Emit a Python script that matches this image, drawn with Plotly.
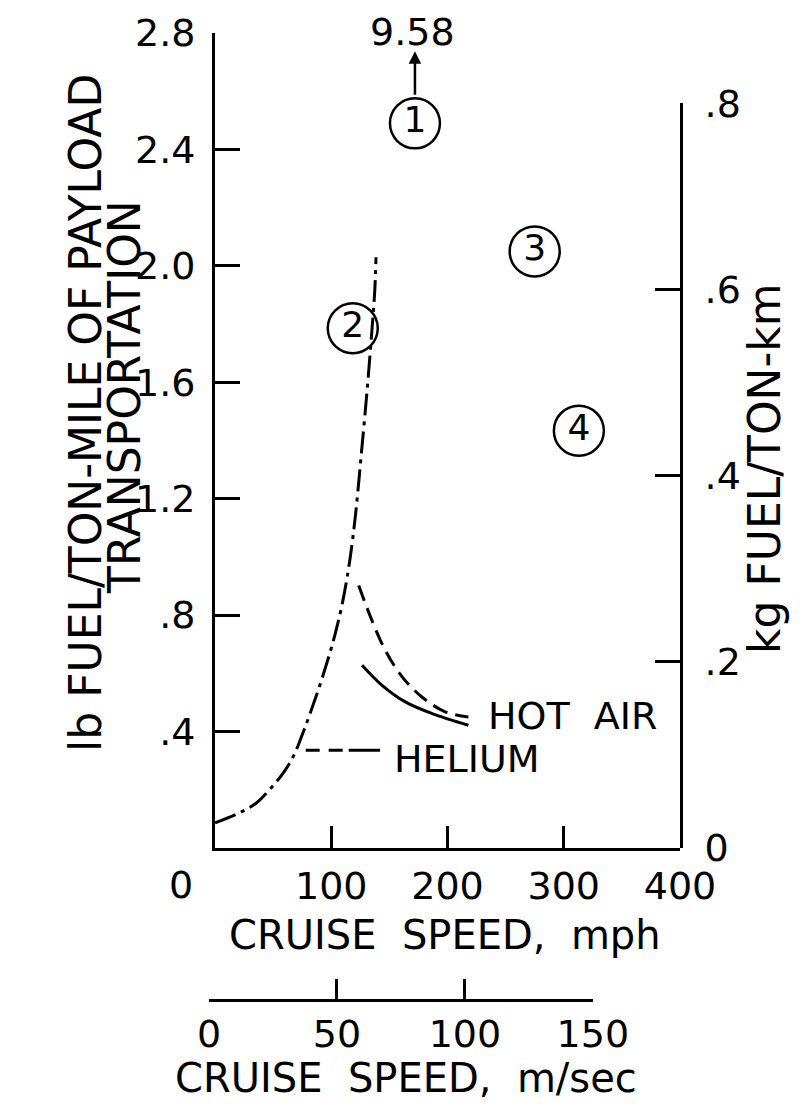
import plotly.graph_objects as go

# ---- data ----
c2_speed = [0, 20, 35, 49, 60, 68, 77, 86, 95, 103, 110, 116, 121, 126, 131, 135, 137.5, 138.5]
c2_fuel = [0.086, 0.119, 0.153, 0.21, 0.265, 0.32, 0.41, 0.51, 0.62, 0.73, 0.85, 0.99,
           1.15, 1.36, 1.58, 1.78, 1.92, 2.03]

hot_dash_speed = [123.6, 135, 146.5, 161, 178, 198, 218]
hot_dash_fuel = [0.902, 0.782, 0.679, 0.588, 0.519, 0.468, 0.450]
hot_solid_speed = [126.5, 143.7, 163.7, 186.7, 218]
hot_solid_fuel = [0.628, 0.559, 0.502, 0.462, 0.422]

helium_dash_speed = [78, 115]
helium_solid_speed = [115, 142]
helium_fuel = 0.336

pt_labels = ["1", "2", "3", "4"]
pt_speed = [172, 118.5, 275, 313]
pt_fuel = [2.49, 1.786, 2.05, 1.434]
pt1_actual = "9.58"

y_ticks = [0.4, 0.8, 1.2, 1.6, 2.0, 2.4, 2.8]
y_ticktext = [".4", ".8", "1.2", "1.6", "2.0", "2.4", "2.8"]
y2_ticks = [0, 0.2, 0.4, 0.6, 0.8]
y2_ticktext = ["0", ".2", ".4", ".6", ".8"]
x_ticks = [100, 200, 300, 400]
x2_ticks = [0, 50, 100, 150]

FONT = "DejaVu Sans"
BLACK = "black"

fig = go.Figure()

fig.add_trace(go.Scatter(x=c2_speed, y=c2_fuel, mode="lines",
                         line=dict(color=BLACK, width=3, dash="22px,6px,4px,6px", shape="spline"),
                         hoverinfo="skip", showlegend=False))
fig.add_trace(go.Scatter(x=hot_dash_speed, y=hot_dash_fuel, mode="lines",
                         line=dict(color=BLACK, width=3, dash="16px,8px", shape="spline"),
                         hoverinfo="skip", showlegend=False))
fig.add_trace(go.Scatter(x=hot_solid_speed, y=hot_solid_fuel, mode="lines",
                         line=dict(color=BLACK, width=3, shape="spline"),
                         hoverinfo="skip", showlegend=False))
fig.add_trace(go.Scatter(x=helium_dash_speed, y=[helium_fuel] * 2, mode="lines",
                         line=dict(color=BLACK, width=3, dash="14px,9px"),
                         hoverinfo="skip", showlegend=False))
fig.add_trace(go.Scatter(x=helium_solid_speed, y=[helium_fuel] * 2, mode="lines",
                         line=dict(color=BLACK, width=3),
                         hoverinfo="skip", showlegend=False))

fig.add_trace(go.Scatter(x=pt_speed, y=pt_fuel, mode="markers+text",
                         text=pt_labels, textposition="middle center",
                         textfont=dict(family=FONT, size=36, color=BLACK),
                         marker=dict(symbol="circle-open", size=50, color=BLACK,
                                     line=dict(width=2.5, color=BLACK)),
                         hoverinfo="skip", showlegend=False, cliponaxis=False))

# invisible traces so the secondary axes are drawn
fig.add_trace(go.Scatter(x=[0], y=[0], yaxis="y2", mode="markers",
                         marker=dict(opacity=0), hoverinfo="skip", showlegend=False))
fig.add_trace(go.Scatter(x=[0], y=[0], xaxis="x2", mode="markers",
                         marker=dict(opacity=0), hoverinfo="skip", showlegend=False))

tickfont = dict(family=FONT, size=38, color=BLACK)

# page has an 8px body margin: figure coords = page coords - 8
OFF = 8
W, H = 811 - 2 * OFF, 1112 - 2 * OFF
L = 209 - OFF
R = W - (680 - OFF)
T = 33 - OFF
B = H - (1000 - OFF)
pw = W - L - R
ph = H - T - B


def px_x(page_x):
    return (page_x - OFF - L) / pw


def px_y(page_y):
    return (H - B - (page_y - OFF)) / ph


axis_common = dict(showline=True, linecolor=BLACK, linewidth=3, ticks="inside",
                   tickcolor=BLACK, tickwidth=3, showgrid=False, zeroline=False,
                   tickfont=tickfont, automargin=False)

fig.update_layout(
    width=W, height=H,
    margin=dict(l=L, r=R, t=T, b=B, autoexpand=False),
    paper_bgcolor="white", plot_bgcolor="rgba(0,0,0,0)",
    xaxis=dict(domain=[px_x(215), 1], range=[0, 400], tickvals=x_ticks, ticklen=22,
               anchor="y", ticklabelstandoff=2, **axis_common),
    yaxis=dict(domain=[px_y(848), 1], range=[0, 2.8005], tickvals=y_ticks, ticktext=y_ticktext,
               ticklen=25, anchor="x", ticklabelstandoff=9, **axis_common),
    yaxis2=dict(domain=[px_y(848), px_y(103)], range=[0, 0.8002], tickvals=y2_ticks,
                ticktext=y2_ticktext, ticklen=25, anchor="x", side="right",
                ticklabelstandoff=14, **axis_common),
    xaxis2=dict(domain=[0, px_x(593)], range=[0, 150.05], tickvals=x2_ticks, ticklen=20,
                anchor="free", position=0, ticklabelstandoff=0,
                **{**axis_common, "linewidth": 2.5, "tickwidth": 2.5}),
)

ann_font = dict(family=FONT, size=38, color=BLACK)
xtitle_font = dict(family=FONT, size=40, color=BLACK)
title_font = dict(family=FONT, size=44, color=BLACK)


def ann(page_x, page_y, text, font, angle=0, yanchor="middle"):
    fig.add_annotation(x=px_x(page_x), y=px_y(page_y), xref="paper", yref="paper",
                       xanchor="center", yanchor=yanchor, textangle=angle,
                       text=text, showarrow=False, font=font)


ann(181, 885, "0", tickfont)
ann(445, 935, "CRUISE  SPEED,  mph", xtitle_font)
ann(406, 1078, "CRUISE  SPEED,  m/sec", xtitle_font)
ann(86, 413, "lb FUEL/TON-MILE OF PAYLOAD", title_font, -90)
ann(125, 397, "TRANSPORTATION", title_font, -90)
ann(764, 469, "kg FUEL/TON-km", title_font, -90)
ann(412, OFF, pt1_actual, ann_font, yanchor="top")

fig.add_annotation(x=hot_dash_speed[-1] + 15, y=hot_dash_fuel[-1] + 0.004, xref="x", yref="y",
                   xanchor="left", yanchor="middle", text="HOT  AIR", showarrow=False,
                   font=ann_font)
fig.add_annotation(x=helium_solid_speed[-1] + 10, y=helium_fuel - 0.03, xref="x", yref="y",
                   xanchor="left", yanchor="middle", text="HELIUM", showarrow=False,
                   font=ann_font)

fig.add_annotation(x=pt_speed[0], y=2.738, ax=pt_speed[0], ay=2.583, xref="x", yref="y",
                   axref="x", ayref="y", text="", showarrow=True, arrowhead=2,
                   arrowsize=1, arrowwidth=2.5, arrowcolor=BLACK)

fig.write_html("out.html")
